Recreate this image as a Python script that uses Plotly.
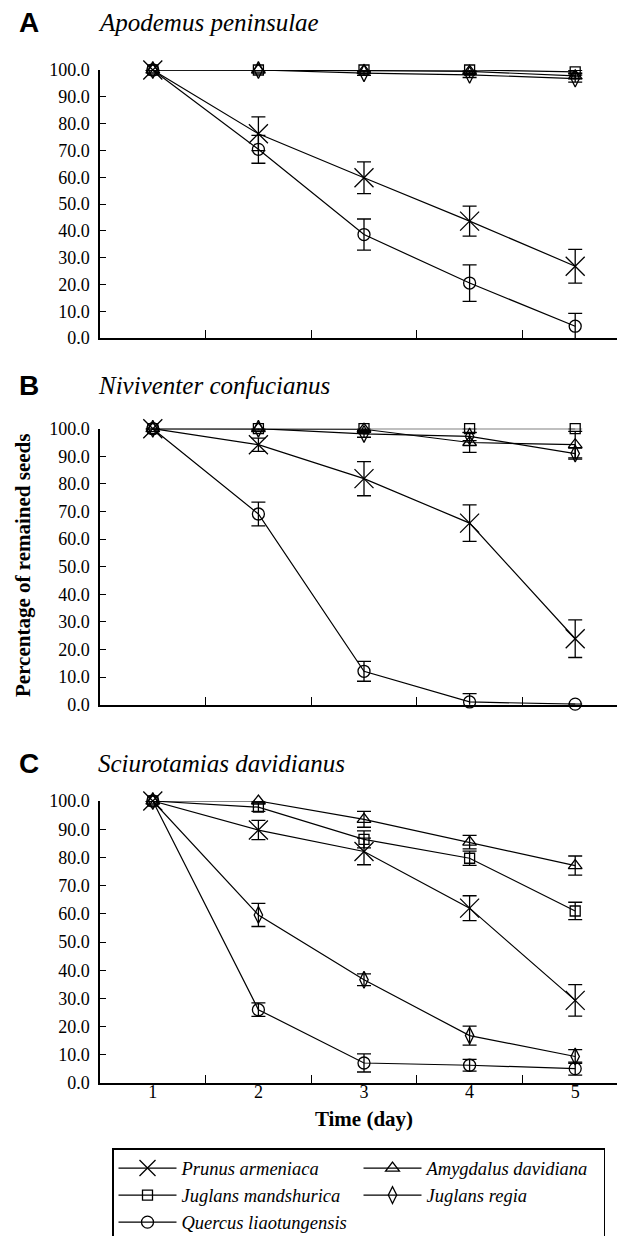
import plotly.graph_objects as go

# ---------------- data ----------------
days = [1, 2, 3, 4, 5]
x_tick_labels = ["1", "2", "3", "4", "5"]
y_tick_values = [0, 10, 20, 30, 40, 50, 60, 70, 80, 90, 100]

species = ["Prunus armeniaca", "Amygdalus davidiana", "Juglans mandshurica",
           "Juglans regia", "Quercus liaotungensis"]
rodents = ["Apodemus peninsulae", "Niviventer confucianus", "Sciurotamias davidianus"]
panel_letters = ["A", "B", "C"]

# Panel A - Apodemus peninsulae
a_prunus = [100, 76.2, 59.8, 43.6, 26.8]
a_prunus_se = [0, 6.3, 5.9, 5.6, 6.3]
a_amygdalus = [100, 100, 99.8, 99.5, 97.8]
a_amygdalus_se = [0, 0.3, 0.5, 0.8, 1.0]
a_mandshurica = [100, 100, 100, 100, 99.3]
a_mandshurica_se = [0, 0, 0, 0, 0.6]
a_regia = [100, 100, 98.8, 98.2, 96.8]
a_regia_se = [0, 0, 0.8, 1.0, 1.3]
a_quercus = [100, 70.4, 38.6, 20.5, 4.4]
a_quercus_se = [0, 5.2, 5.8, 6.8, 4.8]

# Panel B - Niviventer confucianus
b_prunus = [100, 94.2, 81.9, 65.8, 23.9]
b_prunus_se = [0, 2.4, 6.2, 6.6, 6.8]
b_amygdalus = [100, 100, 99.8, 95.0, 94.2]
b_amygdalus_se = [0, 0, 0.8, 3.6, 4.8]
b_mandshurica = [100, 100, 100, 100, 100]
b_mandshurica_se = [0, 0, 0, 0, 0]
b_regia = [100, 100, 98.1, 97.2, 91.0]
b_regia_se = [0, 0.5, 1.2, 1.5, 2.0]
b_quercus = [100, 69.1, 12.1, 1.0, 0.2]
b_quercus_se = [0, 4.3, 3.6, 3.0, 0]

# Panel C - Sciurotamias davidianus
c_prunus = [100, 89.7, 82.1, 62.0, 29.3]
c_prunus_se = [0, 3.4, 4.7, 4.4, 5.6]
c_amygdalus = [100, 100, 93.5, 85.4, 77.1]
c_amygdalus_se = [0, 0, 2.8, 2.4, 3.4]
c_mandshurica = [100, 97.8, 86.4, 79.7, 61.0]
c_mandshurica_se = [0, 1.5, 3.0, 2.5, 3.1]
c_regia = [100, 59.6, 36.6, 16.8, 9.4]
c_regia_se = [0, 4.1, 2.1, 3.4, 2.4]
c_quercus = [100, 26.0, 7.1, 6.3, 5.1]
c_quercus_se = [0, 2.4, 3.2, 2.1, 2.3]

panels = [
    [(a_prunus, a_prunus_se), (a_amygdalus, a_amygdalus_se), (a_mandshurica, a_mandshurica_se),
     (a_regia, a_regia_se), (a_quercus, a_quercus_se)],
    [(b_prunus, b_prunus_se), (b_amygdalus, b_amygdalus_se), (b_mandshurica, b_mandshurica_se),
     (b_regia, b_regia_se), (b_quercus, b_quercus_se)],
    [(c_prunus, c_prunus_se), (c_amygdalus, c_amygdalus_se), (c_mandshurica, c_mandshurica_se),
     (c_regia, c_regia_se), (c_quercus, c_quercus_se)],
]

# ---------------- styles ----------------
W, H = 625, 1236
ML, MR = 92, 5
PW = W - ML - MR
SERIF = "Liberation Serif"
SANS = "Liberation Sans"

symbols = ["x-thin-open", "triangle-up-open", "square-open", "diamond-tall-open", "circle-open"]
sizes = [19, 12, 10, 12, 12]

# pixel positions of y=100 and y=0 per panel
panel_px = [(62, 330), (420.7, 696.7), (793, 1075)]
title_px = [14, 377, 755]


def py(p):
    return 1 - p / H


def px(p):
    return (p - ML) / PW


fig = go.Figure()

for pi, series in enumerate(panels):
    xa = "x" if pi == 0 else f"x{pi + 1}"
    ya = "y" if pi == 0 else f"y{pi + 1}"
    for si, (vals, se) in enumerate(series):
        fig.add_trace(go.Scatter(
            x=days, y=vals, xaxis=xa, yaxis=ya,
            name=species[si], legendgroup=species[si], showlegend=(pi == 0),
            mode="lines+markers", cliponaxis=False,
            line=dict(color="black", width=1.2),
            marker=dict(symbol=symbols[si], size=sizes[si], color="black",
                        line=dict(color="black", width=1.3)),
            error_y=dict(type="data", array=se, visible=True, color="black",
                         thickness=1.3, width=7),
        ))

layout = dict(
    width=W, height=H,
    margin=dict(l=ML, r=MR, t=0, b=0, autoexpand=False),
    paper_bgcolor="white", plot_bgcolor="white",
    font=dict(family=SERIF, color="black", size=18),
    showlegend=True,
    legend=dict(
        orientation="h", x=px(104), y=py(1140), xanchor="left", yanchor="top",
        bordercolor="black", borderwidth=1.5, bgcolor="white",
        font=dict(family=SERIF, size=18.5, style="italic", color="black"),
        itemwidth=58, entrywidth=172, entrywidthmode="pixels",
        traceorder="normal",
    ),
)

annotations = []
for pi in range(3):
    sfx = "" if pi == 0 else str(pi + 1)
    top, bot = panel_px[pi]
    layout["xaxis" + sfx] = dict(
        domain=[0, 1], range=[0.5, 5.5], anchor="y" + sfx,
        showline=True, linecolor="black", linewidth=1.5,
        showgrid=False, zeroline=False,
        tickmode="array", tickvals=days, ticktext=x_tick_labels,
        ticks="", showticklabels=(pi == 2), ticklabelstandoff=-8,
        tickfont=dict(family=SERIF, size=18, color="black"),
        minor=dict(tickmode="array", tickvals=[1.5, 2.5, 3.5, 4.5, 5.5],
                   ticks="inside", ticklen=8, tickwidth=1.3, tickcolor="black",
                   showgrid=False),
    )
    layout["yaxis" + sfx] = dict(
        domain=[py(bot), py(top)], range=[0, 100], anchor="x" + sfx,
        showline=True, linecolor="black", linewidth=1.5,
        showgrid=False, zeroline=False,
        tickmode="array", tickvals=y_tick_values, tickformat=".1f",
        ticks="inside", ticklen=6, tickwidth=1.3, tickcolor="black",
        ticklabelstandoff=5,
        tickfont=dict(family=SERIF, size=18, color="black"),
    )
    annotations.append(dict(
        text=f"<b>{panel_letters[pi]}</b>", xref="paper", yref="paper",
        x=px(9), y=py(title_px[pi]), xanchor="left", yanchor="middle",
        showarrow=False, font=dict(family=SANS, size=28, color="black"),
    ))
    annotations.append(dict(
        text=f"<i>{rodents[pi]}</i>", xref="paper", yref="paper",
        x=px(88), y=py(title_px[pi] + 1), xanchor="left", yanchor="middle",
        showarrow=False, font=dict(family=SERIF, size=25, color="black"),
    ))

layout["xaxis3"]["title"] = dict(text="<b>Time (day)</b>",
                                 font=dict(family=SERIF, size=21, color="black"),
                                 standoff=10)
annotations.append(dict(
    text="<b>Percentage of remained seeds</b>", xref="paper", yref="paper",
    x=px(15), y=py(558), xanchor="center", yanchor="middle", textangle=-90,
    showarrow=False, font=dict(family=SERIF, size=21, color="black"),
))
layout["annotations"] = annotations

fig.update_layout(**layout)
fig.write_html("out.html")
